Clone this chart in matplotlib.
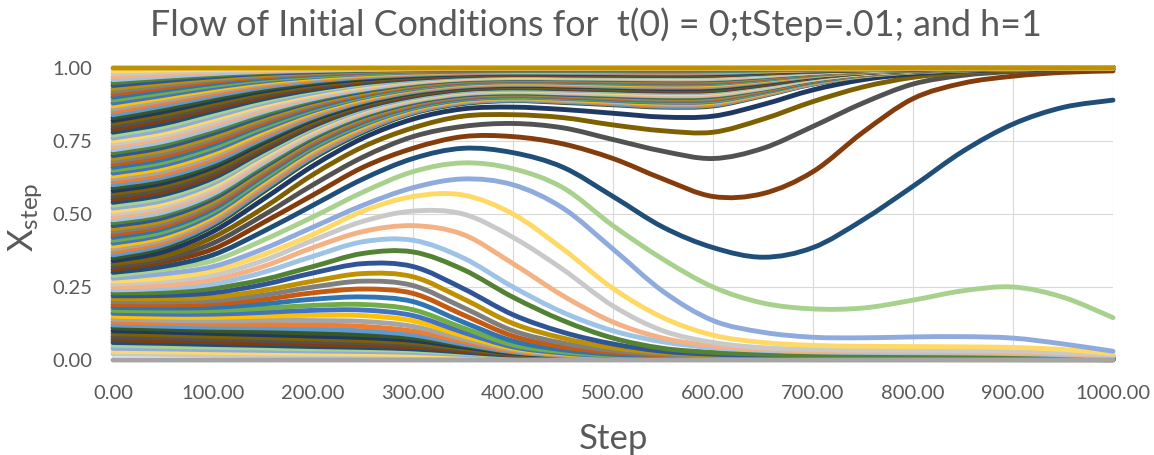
import matplotlib
matplotlib.use("Agg")
import matplotlib.pyplot as plt
from matplotlib.path import Path
from matplotlib.patches import PathPatch

plt.rcParams['font.family'] = ['Lato', 'DejaVu Sans']
plt.rcParams['mathtext.fontset'] = 'custom'
plt.rcParams['mathtext.rm'] = 'Lato'
plt.rcParams['mathtext.it'] = 'Lato:italic'

steps = [0, 50, 100, 150, 200, 250, 300, 350, 400, 450, 500,
         550, 600, 650, 700, 750, 800, 850, 900, 950, 1000]

# x(0) = 0 and x(0) = 1 stay put
floor_line = [0.0, 0.0, 0.0, 0.0, 0.0, 0.0, 0.0, 0.0, 0.0, 0.0, 0.0,
              0.0, 0.0, 0.0, 0.0, 0.0, 0.0, 0.0, 0.0, 0.0, 0.0]
ceiling_line = [1.0, 1.0, 1.0, 1.0, 1.0, 1.0, 1.0, 1.0, 1.0, 1.0, 1.0,
                1.0, 1.0, 1.0, 1.0, 1.0, 1.0, 1.0, 1.0, 1.0, 1.0]

# x(0) = 0.02 .. 0.17, all decay to zero
lower_band = [
    [0.02, 0.019, 0.017, 0.016, 0.015, 0.014, 0.013, 0.01, 0.007, 0.005, 0.003, 0.002, 0.002, 0.002, 0.001, 0.001, 0.001, 0.001, 0.001, 0.001, 0.0],
    [0.03, 0.028, 0.026, 0.024, 0.023, 0.021, 0.019, 0.015, 0.01, 0.006, 0.004, 0.003, 0.002, 0.002, 0.002, 0.002, 0.002, 0.001, 0.001, 0.001, 0.001],
    [0.04, 0.038, 0.035, 0.033, 0.031, 0.029, 0.026, 0.019, 0.012, 0.008, 0.005, 0.004, 0.003, 0.003, 0.002, 0.002, 0.002, 0.002, 0.001, 0.001, 0.001],
    [0.05, 0.047, 0.044, 0.041, 0.038, 0.036, 0.032, 0.023, 0.014, 0.009, 0.006, 0.004, 0.003, 0.003, 0.003, 0.002, 0.002, 0.002, 0.002, 0.001, 0.001],
    [0.06, 0.057, 0.053, 0.05, 0.046, 0.043, 0.038, 0.027, 0.016, 0.01, 0.006, 0.004, 0.004, 0.003, 0.003, 0.003, 0.002, 0.002, 0.002, 0.002, 0.001],
    [0.07, 0.066, 0.062, 0.058, 0.054, 0.05, 0.045, 0.031, 0.018, 0.011, 0.007, 0.005, 0.004, 0.003, 0.003, 0.003, 0.003, 0.002, 0.002, 0.002, 0.001],
    [0.08, 0.076, 0.072, 0.068, 0.063, 0.059, 0.052, 0.036, 0.02, 0.012, 0.008, 0.005, 0.004, 0.004, 0.003, 0.003, 0.003, 0.003, 0.002, 0.002, 0.002],
    [0.09, 0.086, 0.081, 0.077, 0.072, 0.067, 0.059, 0.04, 0.022, 0.013, 0.008, 0.006, 0.005, 0.004, 0.004, 0.003, 0.003, 0.003, 0.003, 0.002, 0.002],
    [0.10, 0.096, 0.091, 0.087, 0.082, 0.077, 0.067, 0.045, 0.024, 0.014, 0.009, 0.006, 0.005, 0.004, 0.004, 0.004, 0.003, 0.003, 0.003, 0.002, 0.002],
    [0.11, 0.106, 0.101, 0.097, 0.092, 0.087, 0.076, 0.05, 0.026, 0.015, 0.009, 0.007, 0.005, 0.005, 0.004, 0.004, 0.004, 0.003, 0.003, 0.003, 0.002],
    [0.12, 0.116, 0.112, 0.11, 0.106, 0.10, 0.086, 0.055, 0.028, 0.016, 0.01, 0.007, 0.006, 0.005, 0.005, 0.004, 0.004, 0.004, 0.003, 0.003, 0.002],
    [0.13, 0.126, 0.123, 0.122, 0.12, 0.115, 0.099, 0.063, 0.031, 0.017, 0.011, 0.008, 0.006, 0.005, 0.005, 0.005, 0.004, 0.004, 0.004, 0.003, 0.002],
    [0.14, 0.136, 0.134, 0.136, 0.135, 0.132, 0.115, 0.072, 0.035, 0.019, 0.012, 0.008, 0.007, 0.006, 0.005, 0.005, 0.005, 0.004, 0.004, 0.003, 0.003],
    [0.15, 0.147, 0.146, 0.15, 0.153, 0.152, 0.134, 0.083, 0.04, 0.021, 0.013, 0.009, 0.007, 0.006, 0.006, 0.005, 0.005, 0.005, 0.004, 0.004, 0.003],
    [0.16, 0.157, 0.157, 0.163, 0.17, 0.171, 0.152, 0.095, 0.045, 0.024, 0.014, 0.01, 0.008, 0.007, 0.006, 0.006, 0.006, 0.005, 0.005, 0.004, 0.003],
    [0.17, 0.168, 0.169, 0.177, 0.187, 0.19, 0.172, 0.11, 0.052, 0.028, 0.016, 0.011, 0.008, 0.007, 0.007, 0.006, 0.006, 0.006, 0.005, 0.005, 0.004],
]

# x(0) = 0.18 .. 0.35, the curves that split off in the middle
middle_band = [
    [0.18, 0.178, 0.18, 0.192, 0.208, 0.216, 0.2, 0.13, 0.065, 0.035, 0.02, 0.014, 0.01, 0.009, 0.008, 0.008, 0.007, 0.007, 0.006, 0.005, 0.004],
    [0.19, 0.189, 0.192, 0.207, 0.23, 0.243, 0.228, 0.155, 0.082, 0.045, 0.026, 0.017, 0.012, 0.01, 0.009, 0.009, 0.008, 0.008, 0.007, 0.006, 0.005],
    [0.20, 0.199, 0.203, 0.222, 0.25, 0.27, 0.255, 0.18, 0.10, 0.058, 0.033, 0.02, 0.014, 0.012, 0.011, 0.01, 0.009, 0.009, 0.008, 0.007, 0.005],
    [0.21, 0.21, 0.215, 0.238, 0.27, 0.296, 0.285, 0.21, 0.125, 0.075, 0.042, 0.025, 0.017, 0.014, 0.012, 0.011, 0.01, 0.01, 0.009, 0.008, 0.006],
    [0.22, 0.221, 0.23, 0.258, 0.298, 0.33, 0.32, 0.245, 0.155, 0.095, 0.055, 0.03, 0.02, 0.016, 0.014, 0.013, 0.012, 0.011, 0.01, 0.009, 0.007],
    [0.23, 0.232, 0.245, 0.275, 0.32, 0.365, 0.37, 0.31, 0.215, 0.135, 0.075, 0.04, 0.026, 0.02, 0.017, 0.016, 0.015, 0.014, 0.013, 0.011, 0.008],
    [0.24, 0.245, 0.26, 0.30, 0.355, 0.405, 0.41, 0.35, 0.25, 0.163, 0.10, 0.062, 0.042, 0.033, 0.028, 0.026, 0.025, 0.024, 0.022, 0.018, 0.012],
    [0.25, 0.255, 0.275, 0.32, 0.385, 0.44, 0.46, 0.43, 0.33, 0.22, 0.13, 0.075, 0.048, 0.036, 0.031, 0.029, 0.028, 0.027, 0.025, 0.021, 0.014],
    [0.26, 0.27, 0.29, 0.34, 0.41, 0.475, 0.51, 0.50, 0.42, 0.31, 0.185, 0.10, 0.06, 0.042, 0.036, 0.034, 0.033, 0.032, 0.03, 0.025, 0.016],
    [0.27, 0.28, 0.305, 0.36, 0.43, 0.51, 0.56, 0.565, 0.50, 0.38, 0.245, 0.145, 0.085, 0.06, 0.05, 0.047, 0.046, 0.045, 0.043, 0.036, 0.022],
    [0.28, 0.295, 0.32, 0.38, 0.455, 0.53, 0.59, 0.62, 0.60, 0.52, 0.38, 0.235, 0.135, 0.095, 0.078, 0.076, 0.079, 0.08, 0.075, 0.055, 0.03],
    [0.29, 0.31, 0.34, 0.41, 0.49, 0.575, 0.645, 0.675, 0.655, 0.59, 0.46, 0.345, 0.25, 0.195, 0.175, 0.178, 0.205, 0.237, 0.25, 0.215, 0.145],
    [0.30, 0.32, 0.36, 0.44, 0.53, 0.62, 0.69, 0.725, 0.71, 0.66, 0.56, 0.455, 0.385, 0.352, 0.385, 0.48, 0.595, 0.715, 0.808, 0.865, 0.89],
    [0.31, 0.335, 0.38, 0.47, 0.565, 0.66, 0.725, 0.765, 0.765, 0.74, 0.69, 0.62, 0.56, 0.57, 0.645, 0.78, 0.895, 0.948, 0.972, 0.985, 0.99],
    [0.32, 0.345, 0.40, 0.495, 0.60, 0.695, 0.765, 0.80, 0.81, 0.795, 0.755, 0.715, 0.69, 0.725, 0.80, 0.88, 0.945, 0.975, 0.988, 0.994, 0.997],
    [0.33, 0.355, 0.42, 0.52, 0.635, 0.73, 0.795, 0.835, 0.84, 0.83, 0.805, 0.785, 0.78, 0.825, 0.885, 0.935, 0.968, 0.984, 0.993, 0.996, 0.998],
    [0.34, 0.37, 0.44, 0.55, 0.665, 0.76, 0.825, 0.86, 0.866, 0.858, 0.845, 0.832, 0.835, 0.875, 0.925, 0.96, 0.98, 0.99, 0.995, 0.997, 0.999],
    [0.35, 0.385, 0.46, 0.575, 0.69, 0.78, 0.845, 0.878, 0.888, 0.882, 0.874, 0.866, 0.87, 0.905, 0.945, 0.972, 0.986, 0.993, 0.997, 0.999, 1.0],
]

# x(0) = 0.36 .. 0.59
upper_band_low = [
    [0.36, 0.394, 0.468, 0.583, 0.697, 0.785, 0.848, 0.881, 0.89, 0.885, 0.877, 0.869, 0.873, 0.907, 0.946, 0.973, 0.986, 0.993, 0.997, 0.999, 1.0],
    [0.37, 0.403, 0.476, 0.591, 0.704, 0.79, 0.852, 0.884, 0.893, 0.888, 0.88, 0.873, 0.876, 0.909, 0.948, 0.974, 0.987, 0.993, 0.997, 0.999, 1.0],
    [0.38, 0.412, 0.484, 0.599, 0.711, 0.795, 0.855, 0.886, 0.895, 0.89, 0.883, 0.876, 0.88, 0.912, 0.949, 0.974, 0.987, 0.994, 0.997, 0.999, 1.0],
    [0.39, 0.421, 0.492, 0.607, 0.718, 0.80, 0.859, 0.889, 0.898, 0.893, 0.886, 0.88, 0.883, 0.914, 0.951, 0.975, 0.988, 0.994, 0.997, 0.999, 1.0],
    [0.40, 0.43, 0.50, 0.615, 0.725, 0.805, 0.862, 0.892, 0.90, 0.896, 0.889, 0.883, 0.886, 0.916, 0.952, 0.976, 0.988, 0.994, 0.997, 0.999, 1.0],
    [0.41, 0.439, 0.509, 0.622, 0.731, 0.81, 0.865, 0.895, 0.902, 0.898, 0.892, 0.886, 0.889, 0.918, 0.953, 0.977, 0.988, 0.994, 0.997, 0.999, 1.0],
    [0.42, 0.449, 0.517, 0.63, 0.737, 0.815, 0.868, 0.897, 0.905, 0.901, 0.894, 0.889, 0.892, 0.92, 0.954, 0.977, 0.989, 0.994, 0.997, 0.999, 1.0],
    [0.43, 0.458, 0.526, 0.637, 0.743, 0.82, 0.872, 0.90, 0.907, 0.903, 0.897, 0.891, 0.894, 0.922, 0.956, 0.978, 0.989, 0.995, 0.998, 0.999, 1.0],
    [0.44, 0.468, 0.534, 0.645, 0.749, 0.825, 0.875, 0.902, 0.91, 0.906, 0.899, 0.894, 0.897, 0.924, 0.957, 0.978, 0.99, 0.995, 0.998, 0.999, 1.0],
    [0.45, 0.477, 0.543, 0.652, 0.755, 0.83, 0.878, 0.905, 0.912, 0.908, 0.902, 0.897, 0.90, 0.926, 0.958, 0.979, 0.99, 0.995, 0.998, 0.999, 1.0],
    [0.46, 0.487, 0.552, 0.659, 0.76, 0.834, 0.881, 0.907, 0.914, 0.91, 0.905, 0.90, 0.903, 0.928, 0.959, 0.98, 0.99, 0.995, 0.998, 0.999, 1.0],
    [0.47, 0.497, 0.561, 0.666, 0.765, 0.838, 0.884, 0.91, 0.916, 0.913, 0.907, 0.903, 0.905, 0.93, 0.96, 0.98, 0.99, 0.995, 0.998, 0.999, 1.0],
    [0.48, 0.506, 0.569, 0.674, 0.771, 0.842, 0.887, 0.912, 0.919, 0.915, 0.91, 0.905, 0.908, 0.931, 0.961, 0.981, 0.991, 0.996, 0.998, 0.999, 1.0],
    [0.49, 0.516, 0.578, 0.681, 0.776, 0.846, 0.89, 0.915, 0.921, 0.918, 0.912, 0.908, 0.91, 0.933, 0.962, 0.981, 0.991, 0.996, 0.998, 0.999, 1.0],
    [0.50, 0.526, 0.587, 0.688, 0.781, 0.85, 0.893, 0.917, 0.923, 0.92, 0.915, 0.911, 0.913, 0.935, 0.963, 0.982, 0.991, 0.996, 0.998, 0.999, 1.0],
    [0.51, 0.536, 0.596, 0.695, 0.786, 0.854, 0.896, 0.919, 0.925, 0.922, 0.917, 0.913, 0.915, 0.937, 0.964, 0.982, 0.991, 0.996, 0.998, 0.999, 1.0],
    [0.52, 0.546, 0.605, 0.702, 0.791, 0.857, 0.898, 0.921, 0.927, 0.924, 0.92, 0.916, 0.918, 0.939, 0.965, 0.983, 0.991, 0.996, 0.998, 0.999, 1.0],
    [0.53, 0.556, 0.614, 0.708, 0.796, 0.861, 0.901, 0.924, 0.93, 0.927, 0.922, 0.918, 0.92, 0.94, 0.966, 0.983, 0.992, 0.996, 0.998, 0.999, 1.0],
    [0.54, 0.566, 0.623, 0.715, 0.801, 0.864, 0.903, 0.926, 0.932, 0.929, 0.925, 0.921, 0.923, 0.942, 0.967, 0.984, 0.992, 0.996, 0.998, 0.999, 1.0],
    [0.55, 0.576, 0.632, 0.722, 0.806, 0.868, 0.906, 0.928, 0.934, 0.931, 0.927, 0.923, 0.925, 0.944, 0.968, 0.984, 0.992, 0.996, 0.998, 0.999, 1.0],
    [0.56, 0.586, 0.641, 0.729, 0.811, 0.871, 0.909, 0.93, 0.936, 0.933, 0.929, 0.925, 0.927, 0.946, 0.969, 0.984, 0.992, 0.996, 0.998, 0.999, 1.0],
    [0.57, 0.596, 0.65, 0.736, 0.816, 0.875, 0.911, 0.932, 0.938, 0.935, 0.931, 0.928, 0.93, 0.948, 0.97, 0.985, 0.992, 0.996, 0.998, 0.999, 1.0],
    [0.58, 0.606, 0.66, 0.744, 0.822, 0.878, 0.914, 0.934, 0.94, 0.938, 0.934, 0.93, 0.932, 0.949, 0.971, 0.985, 0.993, 0.997, 0.999, 1.0, 1.0],
    [0.59, 0.616, 0.669, 0.751, 0.827, 0.882, 0.916, 0.936, 0.942, 0.94, 0.936, 0.933, 0.935, 0.951, 0.972, 0.986, 0.993, 0.997, 0.999, 1.0, 1.0],
]

# x(0) = 0.60 .. 0.79
upper_band_mid = [
    [0.60, 0.626, 0.678, 0.758, 0.832, 0.885, 0.919, 0.938, 0.944, 0.942, 0.938, 0.935, 0.937, 0.953, 0.973, 0.986, 0.993, 0.997, 0.999, 1.0, 1.0],
    [0.61, 0.636, 0.688, 0.766, 0.837, 0.888, 0.922, 0.94, 0.946, 0.944, 0.94, 0.938, 0.939, 0.955, 0.974, 0.986, 0.993, 0.997, 0.999, 1.0, 1.0],
    [0.62, 0.646, 0.698, 0.774, 0.842, 0.892, 0.924, 0.942, 0.948, 0.946, 0.943, 0.94, 0.942, 0.957, 0.975, 0.987, 0.993, 0.997, 0.999, 1.0, 1.0],
    [0.63, 0.657, 0.708, 0.781, 0.848, 0.895, 0.927, 0.945, 0.951, 0.949, 0.945, 0.943, 0.944, 0.958, 0.976, 0.987, 0.994, 0.997, 0.999, 1.0, 1.0],
    [0.64, 0.667, 0.718, 0.789, 0.853, 0.899, 0.929, 0.947, 0.953, 0.951, 0.948, 0.945, 0.947, 0.96, 0.977, 0.988, 0.994, 0.997, 0.999, 1.0, 1.0],
    [0.65, 0.677, 0.728, 0.797, 0.858, 0.902, 0.932, 0.949, 0.955, 0.953, 0.95, 0.948, 0.949, 0.962, 0.978, 0.988, 0.994, 0.997, 0.999, 1.0, 1.0],
    [0.66, 0.687, 0.738, 0.805, 0.863, 0.906, 0.935, 0.951, 0.957, 0.955, 0.952, 0.95, 0.951, 0.964, 0.979, 0.989, 0.994, 0.997, 0.999, 1.0, 1.0],
    [0.67, 0.697, 0.747, 0.812, 0.869, 0.909, 0.937, 0.953, 0.959, 0.957, 0.954, 0.952, 0.953, 0.965, 0.98, 0.989, 0.994, 0.997, 0.999, 1.0, 1.0],
    [0.68, 0.708, 0.757, 0.82, 0.874, 0.913, 0.94, 0.955, 0.96, 0.959, 0.957, 0.955, 0.956, 0.967, 0.981, 0.99, 0.995, 0.998, 0.999, 1.0, 1.0],
    [0.69, 0.718, 0.766, 0.827, 0.88, 0.916, 0.942, 0.957, 0.962, 0.961, 0.959, 0.957, 0.958, 0.968, 0.982, 0.99, 0.995, 0.998, 0.999, 1.0, 1.0],
    [0.70, 0.728, 0.776, 0.835, 0.885, 0.92, 0.945, 0.959, 0.964, 0.963, 0.961, 0.959, 0.96, 0.97, 0.983, 0.991, 0.995, 0.998, 0.999, 1.0, 1.0],
    [0.71, 0.738, 0.786, 0.842, 0.89, 0.924, 0.947, 0.961, 0.966, 0.965, 0.963, 0.961, 0.962, 0.972, 0.984, 0.991, 0.995, 0.998, 0.999, 1.0, 1.0],
    [0.72, 0.748, 0.795, 0.85, 0.895, 0.927, 0.95, 0.963, 0.967, 0.966, 0.965, 0.963, 0.964, 0.973, 0.985, 0.992, 0.995, 0.998, 0.999, 1.0, 1.0],
    [0.73, 0.758, 0.805, 0.857, 0.90, 0.931, 0.952, 0.964, 0.969, 0.968, 0.966, 0.965, 0.966, 0.975, 0.985, 0.992, 0.996, 0.998, 0.999, 1.0, 1.0],
    [0.74, 0.768, 0.814, 0.865, 0.905, 0.934, 0.955, 0.966, 0.97, 0.969, 0.968, 0.967, 0.968, 0.976, 0.986, 0.993, 0.996, 0.998, 0.999, 1.0, 1.0],
    [0.75, 0.778, 0.824, 0.872, 0.91, 0.938, 0.957, 0.968, 0.972, 0.971, 0.97, 0.969, 0.97, 0.978, 0.987, 0.993, 0.996, 0.998, 0.999, 1.0, 1.0],
    [0.76, 0.788, 0.833, 0.879, 0.915, 0.942, 0.959, 0.97, 0.974, 0.973, 0.972, 0.971, 0.972, 0.979, 0.988, 0.993, 0.996, 0.998, 0.999, 1.0, 1.0],
    [0.77, 0.799, 0.842, 0.886, 0.921, 0.945, 0.962, 0.972, 0.975, 0.974, 0.973, 0.972, 0.973, 0.98, 0.988, 0.993, 0.996, 0.998, 0.999, 1.0, 1.0],
    [0.78, 0.809, 0.852, 0.894, 0.926, 0.949, 0.964, 0.973, 0.977, 0.976, 0.975, 0.974, 0.975, 0.982, 0.989, 0.994, 0.997, 0.998, 0.999, 1.0, 1.0],
    [0.79, 0.82, 0.861, 0.901, 0.932, 0.952, 0.967, 0.975, 0.978, 0.977, 0.976, 0.975, 0.976, 0.983, 0.99, 0.994, 0.997, 0.998, 0.999, 1.0, 1.0],
]

# x(0) = 0.80 .. 0.99
upper_band_high = [
    [0.80, 0.83, 0.87, 0.908, 0.937, 0.956, 0.969, 0.977, 0.98, 0.979, 0.978, 0.977, 0.978, 0.984, 0.99, 0.994, 0.997, 0.998, 0.999, 1.0, 1.0],
    [0.81, 0.84, 0.878, 0.914, 0.941, 0.959, 0.971, 0.979, 0.981, 0.981, 0.98, 0.979, 0.98, 0.985, 0.991, 0.994, 0.997, 0.998, 0.999, 1.0, 1.0],
    [0.82, 0.85, 0.887, 0.921, 0.946, 0.962, 0.973, 0.98, 0.983, 0.982, 0.981, 0.98, 0.981, 0.986, 0.992, 0.995, 0.997, 0.998, 0.999, 1.0, 1.0],
    [0.83, 0.86, 0.895, 0.927, 0.95, 0.966, 0.976, 0.982, 0.984, 0.984, 0.983, 0.982, 0.983, 0.988, 0.992, 0.995, 0.998, 0.999, 1.0, 1.0, 1.0],
    [0.84, 0.87, 0.904, 0.934, 0.955, 0.969, 0.978, 0.983, 0.986, 0.985, 0.984, 0.983, 0.984, 0.989, 0.993, 0.996, 0.998, 0.999, 1.0, 1.0, 1.0],
    [0.85, 0.88, 0.912, 0.94, 0.959, 0.972, 0.98, 0.985, 0.987, 0.987, 0.986, 0.985, 0.986, 0.99, 0.994, 0.996, 0.998, 0.999, 1.0, 1.0, 1.0],
    [0.86, 0.889, 0.919, 0.945, 0.963, 0.975, 0.982, 0.986, 0.988, 0.988, 0.987, 0.986, 0.987, 0.991, 0.995, 0.996, 0.998, 0.999, 1.0, 1.0, 1.0],
    [0.87, 0.898, 0.926, 0.95, 0.966, 0.977, 0.984, 0.988, 0.989, 0.989, 0.989, 0.988, 0.989, 0.992, 0.995, 0.997, 0.998, 0.999, 1.0, 1.0, 1.0],
    [0.88, 0.906, 0.933, 0.955, 0.97, 0.98, 0.986, 0.989, 0.991, 0.991, 0.99, 0.989, 0.99, 0.993, 0.996, 0.997, 0.999, 1.0, 1.0, 1.0, 1.0],
    [0.89, 0.915, 0.94, 0.96, 0.973, 0.982, 0.988, 0.991, 0.992, 0.992, 0.992, 0.991, 0.992, 0.994, 0.996, 0.998, 0.999, 1.0, 1.0, 1.0, 1.0],
    [0.90, 0.924, 0.947, 0.965, 0.977, 0.985, 0.99, 0.992, 0.993, 0.993, 0.993, 0.992, 0.993, 0.995, 0.997, 0.998, 0.999, 1.0, 1.0, 1.0, 1.0],
    [0.91, 0.932, 0.953, 0.969, 0.98, 0.987, 0.991, 0.993, 0.994, 0.994, 0.994, 0.993, 0.994, 0.996, 0.997, 0.998, 0.999, 1.0, 1.0, 1.0, 1.0],
    [0.92, 0.94, 0.959, 0.973, 0.982, 0.989, 0.992, 0.994, 0.995, 0.995, 0.995, 0.994, 0.995, 0.996, 0.998, 0.998, 0.999, 1.0, 1.0, 1.0, 1.0],
    [0.93, 0.948, 0.964, 0.977, 0.985, 0.99, 0.994, 0.995, 0.995, 0.995, 0.995, 0.995, 0.995, 0.997, 0.998, 0.999, 1.0, 1.0, 1.0, 1.0, 1.0],
    [0.94, 0.956, 0.97, 0.981, 0.987, 0.992, 0.995, 0.996, 0.996, 0.996, 0.996, 0.996, 0.996, 0.997, 0.999, 0.999, 1.0, 1.0, 1.0, 1.0, 1.0],
    [0.95, 0.964, 0.976, 0.985, 0.99, 0.994, 0.996, 0.997, 0.997, 0.997, 0.997, 0.997, 0.997, 0.998, 0.999, 0.999, 1.0, 1.0, 1.0, 1.0, 1.0],
    [0.96, 0.971, 0.981, 0.988, 0.992, 0.995, 0.997, 0.998, 0.998, 0.998, 0.998, 0.998, 0.998, 0.998, 0.999, 0.999, 1.0, 1.0, 1.0, 1.0, 1.0],
    [0.97, 0.978, 0.986, 0.991, 0.994, 0.996, 0.998, 0.998, 0.998, 0.998, 0.998, 0.998, 0.998, 0.999, 0.999, 1.0, 1.0, 1.0, 1.0, 1.0, 1.0],
    [0.98, 0.986, 0.99, 0.994, 0.996, 0.998, 0.999, 0.999, 0.999, 0.999, 0.999, 0.999, 0.999, 0.999, 1.0, 1.0, 1.0, 1.0, 1.0, 1.0, 1.0],
    [0.99, 0.993, 0.995, 0.997, 0.998, 0.999, 0.999, 1.0, 1.0, 1.0, 1.0, 1.0, 1.0, 1.0, 1.0, 1.0, 1.0, 1.0, 1.0, 1.0, 1.0],
]

# Office theme series colours, cycled every 24 curves
accent = ['#5B9BD5', '#ED7D31', '#A5A5A5', '#FFC000', '#4472C4', '#70AD47']
darker_25 = ['#2E75B6', '#C55A11', '#7F7F7F', '#BF9000', '#2F5597', '#548235']
lighter_40 = ['#9DC3E6', '#F4B183', '#C9C9C9', '#FFD966', '#8FAADC', '#A9D18E']
darker_50 = ['#1F4E79', '#843C0C', '#525252', '#7F6000', '#203864', '#385723']
palette = accent + darker_25 + lighter_40 + darker_50


def smoothed(xs, ys):
    """Smoothed-line path through the points (Catmull-Rom as cubic Beziers)."""
    pts = list(zip(xs, ys))
    n = len(pts)
    verts = [pts[0]]
    codes = [Path.MOVETO]
    for i in range(n - 1):
        p0 = pts[max(i - 1, 0)]
        p1 = pts[i]
        p2 = pts[i + 1]
        p3 = pts[min(i + 2, n - 1)]
        c1 = (p1[0] + (p2[0] - p0[0]) / 6, p1[1] + (p2[1] - p0[1]) / 6)
        c2 = (p2[0] - (p3[0] - p1[0]) / 6, p2[1] - (p3[1] - p1[1]) / 6)
        verts += [c1, c2, p2]
        codes += [Path.CURVE4] * 3
    return Path(verts, codes)


def draw_curve(ax, ys, color, zorder=1):
    ax.add_patch(PathPatch(smoothed(steps, ys), fill=False, edgecolor=color,
                           lw=3.5, capstyle='round', joinstyle='round',
                           clip_on=False, zorder=zorder))


fig = plt.figure(figsize=(11.54, 4.55), dpi=100)
ax = fig.add_axes([113 / 1154, 95 / 455, 1000 / 1154, 292 / 455])

for curve in lower_band + middle_band + upper_band_low + upper_band_mid + upper_band_high:
    k = (round(curve[0] * 100) - 12) % len(palette)
    draw_curve(ax, curve, palette[k])

draw_curve(ax, ceiling_line, '#BF9000', zorder=3)
draw_curve(ax, floor_line, '#A5A5A5', zorder=3)

ax.set_xlim(0, 1000)
ax.set_ylim(0, 1)
xticks = [0, 100, 200, 300, 400, 500, 600, 700, 800, 900, 1000]
yticks = [0, 0.25, 0.5, 0.75, 1.0]
ax.set_xticks(xticks)
ax.set_xticklabels([f'{v:.2f}' for v in xticks])
ax.set_yticks(yticks)
ax.set_yticklabels([f'{v:.2f}' for v in yticks])
ax.tick_params(length=0, labelsize=14.5, colors='#595959')
ax.tick_params(axis='x', pad=18)
ax.tick_params(axis='y', pad=15)
for spine in ax.spines.values():
    spine.set_visible(False)
ax.grid(color='#D9D9D9', lw=0.8)
ax.set_axisbelow(True)

ax.set_xlabel('Step', fontsize=25, color='#595959')
ax.xaxis.set_label_coords(0.5, -0.215)
ax.set_ylabel(r'$\mathrm{X}_{\mathrm{step}}$', fontsize=25, color='#595959')
ax.yaxis.set_label_coords(-0.068, 0.49)

fig.text(0.516, 0.945, 'Flow of Initial Conditions for  t(0) = 0;tStep=.01; and h=1',
         ha='center', va='center', fontsize=25.8, color='#595959')

fig.savefig('out.png', dpi=100, facecolor='white')
